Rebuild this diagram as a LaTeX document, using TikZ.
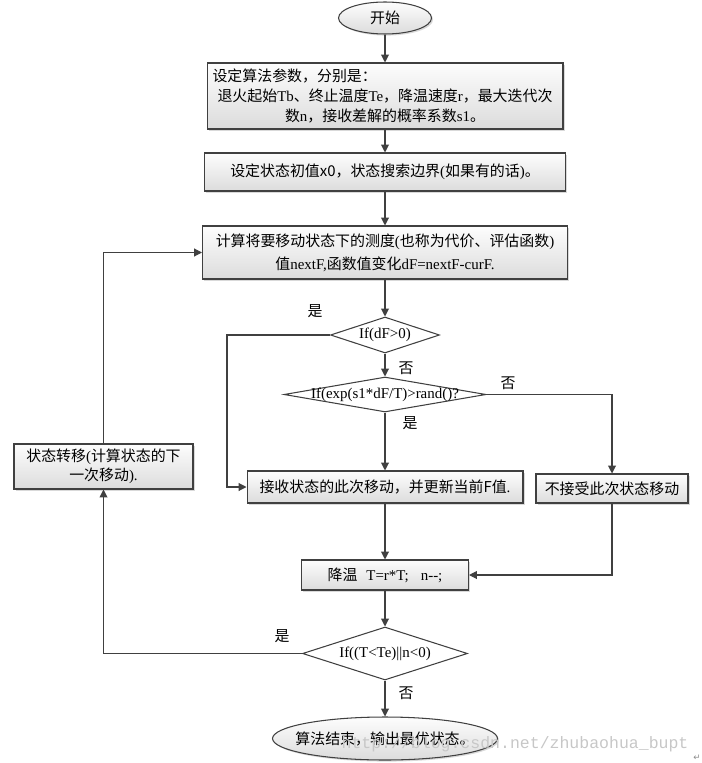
\documentclass[tikz,border=0pt]{standalone}
\usepackage{fontspec}
\setmainfont{Liberation Serif}
\newfontfamily\cjk{Noto Sans CJK SC}
\newfontfamily\markfont{Liberation Mono}
\newfontfamily\symfont{DejaVu Sans}
\usetikzlibrary{shapes.geometric,shadows,arrows.meta}

\newcommand{\zh}[1]{{\cjk #1}}
\newcommand{\dtext}[1]{\makebox[0pt]{#1}}

\definecolor{linegray}{RGB}{64,64,64}
\definecolor{boxtop}{RGB}{253,253,253}
\definecolor{boxbottom}{RGB}{220,220,220}

\tikzset{
	line/.style={draw=linegray, line width=0.6pt},
	arr/.style={line, -{Triangle[length=4.5pt,width=4.5pt]}},
	process/.style={rectangle, line, top color=boxtop, bottom color=boxbottom,
		drop shadow={shadow xshift=0.9pt, shadow yshift=-0.9pt, opacity=0.3},
		inner sep=1pt, align=center},
	terminal/.style={ellipse, line, top color=boxtop, bottom color=boxbottom,
		drop shadow={shadow xshift=0.9pt, shadow yshift=-0.9pt, opacity=0.3},
		inner sep=0pt},
	decision/.style={diamond, line, fill=white, inner sep=0pt},
	answer/.style={inner sep=0pt}
}

\begin{document}
\begin{tikzpicture}[x=0.02cm, y=-0.02cm,
	every node/.style={font=\fontsize{8.5pt}{11.5pt}\selectfont}]
	\useasboundingbox (0,0) rectangle (702,763);

	\node[terminal, minimum width=1.86cm, minimum height=0.64cm] (start) at (385,18) {\dtext{\zh{开始}}};

	\node[process, minimum width=7.12cm, minimum height=1.32cm] (box1) at (385,96)
		{\makebox[6.9cm][l]{\zh{设定算法参数，分别是：}}\\
		\zh{退火起始}Tb\zh{、终止温度}Te\zh{，降温速度}r\zh{，最大迭代次}\\
		\zh{数}n\zh{，接收差解的概率系数}s1\zh{。}};

	\node[process, minimum width=7.22cm, minimum height=0.76cm] (box2) at (385,172)
		{\zh{设定状态初值x0，状态搜索边界}(\zh{如果有的话})\zh{。}};

	\node[process, minimum width=7.3cm, minimum height=1.06cm,
		font=\fontsize{8.5pt}{13pt}\selectfont] (box3) at (385,252.5)
		{\zh{计算将要移动状态下的测度}(\zh{也称为代价、评估函数})\\
		\zh{值}nextF,\zh{函数值变化}dF=nextF-curF.};

	\node[decision, minimum width=2.18cm, minimum height=0.72cm] (d1) at (385,335) {\dtext{If(dF>0)}};
	\node[decision, minimum width=4.04cm, minimum height=0.70cm] (d2) at (385,394.5) {\dtext{If(exp(s1*dF/T)>rand()?}};

	\node[process, minimum width=5.52cm, minimum height=0.64cm] (box7) at (385,487)
		{\zh{接收状态的此次移动，并更新当前F值}.};
	\node[process, minimum width=3.04cm, minimum height=0.58cm] (box8) at (612,488.5)
		{\zh{不接受此次状态移动}};
	\node[process, minimum width=3.58cm, minimum height=0.9cm,
		font=\fontsize{8.5pt}{11pt}\selectfont] (box9) at (103.5,466.5)
		{\zh{状态转移}(\zh{计算状态的下}\\\zh{一次移动}).};

	\node[process, minimum width=3.34cm, minimum height=0.6cm] (box10) at (385,575)
		{\zh{降温}\hspace{0.6em}T=r*T;\hspace{0.8em}n-\kern0pt-;};

	\node[decision, minimum width=3.3cm, minimum height=1.06cm] (d3) at (385,653.5) {\dtext{If((T<Te)||n<0)}};

	\node[terminal, minimum width=4.5cm, minimum height=0.86cm] (end) at (385,738.5)
		{\dtext{\zh{算法结束，输出最优状态。}}};

	% main column
	\draw[arr] (start) -- (box1);
	\draw[arr] (box1) -- (box2);
	\draw[arr] (box2) -- (box3);
	\draw[arr] (box3) -- (d1);
	\draw[arr] (d1) -- (d2);
	\draw[arr] (d2) -- (box7);
	\draw[arr] (box7) -- (box10);
	\draw[arr] (box10) -- (d3);
	\draw[arr] (d3) -- (end);

	% branches
	\draw[arr] (d1.west) -- ++(-103,0) |- (box7);
	\draw[arr] (d2.east) -| (box8);
	\draw[arr] (box8) |- (box10);
	\draw[arr] (d3.west) -| (box9);
	\draw[arr] (box9) |- (box3);

	\node[answer] (y1) at (315,311) {\zh{是}};
	\node[answer] (n1) at (406,368) {\zh{否}};
	\node[answer] (n2) at (508,383) {\zh{否}};
	\node[answer] (y2) at (410,423) {\zh{是}};
	\node[answer] (y3) at (282,636) {\zh{是}};
	\node[answer] (n3) at (406,693) {\zh{否}};

	\node[text=black!22, font=\markfont\fontsize{9.4pt}{10pt}\selectfont] (wm) at (515,744)
		{http://blog.csdn.net/zhubaohua\_bupt};
	\node[text=black!45, font=\symfont\fontsize{5pt}{5pt}\selectfont] (ret) at (697,758) {↵};

\end{tikzpicture}
\end{document}
